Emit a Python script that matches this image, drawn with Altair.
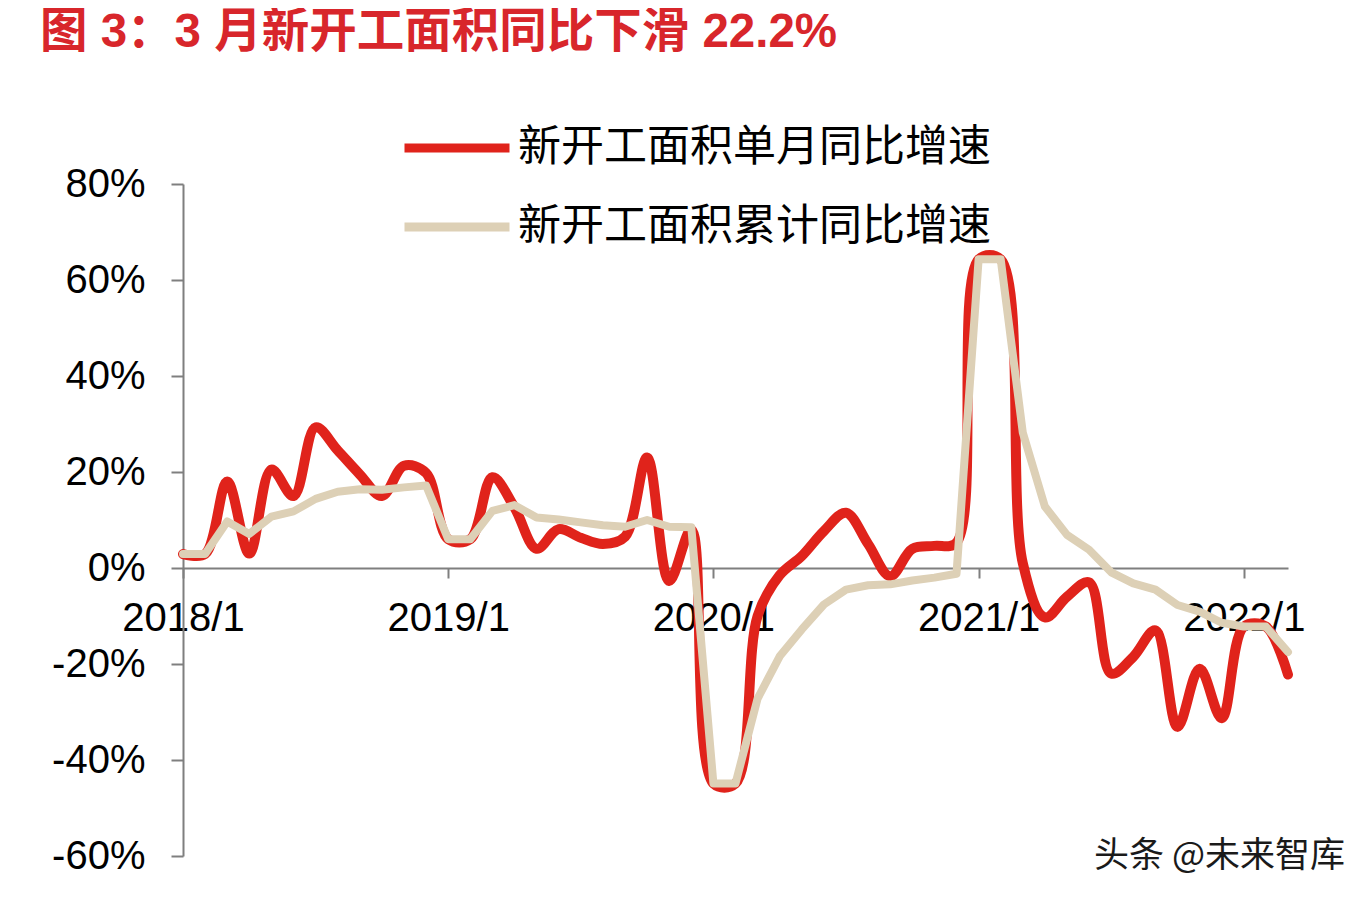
import altair as alt
import pandas as pd

# ---------------- data ----------------
month_labels = [f"{y}/{m}" for y in range(2018, 2023) for m in range(1, 13)][:51]

monthly_yoy = [
    2.9, 2.9, 18.0, 3.0, 20.5, 15.0, 29.3, 24.5, 19.5, 15.0, 21.3, 19.8,      # 2018
    6.0, 6.0, 18.9, 12.6, 4.0, 8.1, 6.3, 5.0, 6.5, 23.0, -2.7, 8.0,          # 2019
    -44.9, -44.9, -10.0, -1.5, 2.5, 7.7, 11.5, 5.0, -1.7, 4.0, 4.6, 5.3,     # 2020
    64.3, 64.3, 1.0, -10.3, -6.0, -3.0, -22.0, -18.5, -13.0, -33.1, -21.0, -31.3,  # 2021
    -12.2, -12.2, -22.2,                                                     # 2022
]

cumulative_yoy = [
    2.9, 2.9, 9.7, 7.1, 10.7, 11.8, 14.4, 15.9, 16.4, 16.3, 16.8, 17.2,      # 2018
    6.0, 6.0, 11.9, 13.1, 10.5, 10.1, 9.5, 8.9, 8.6, 10.0, 8.6, 8.5,         # 2019
    -44.9, -44.9, -27.2, -18.4, -12.8, -7.6, -4.5, -3.6, -3.4, -2.6, -2.0, -1.2,  # 2020
    64.3, 64.3, 28.2, 12.8, 6.9, 3.8, -0.9, -3.2, -4.5, -7.7, -9.1, -11.4,   # 2021
    -12.2, -12.2, -17.5,                                                     # 2022
]

series_names = ["新开工面积单月同比增速", "新开工面积累计同比增速"]
series_colors = ["#E0231B", "#DDD0B6"]
year_ticks = ["2018/1", "2019/1", "2020/1", "2021/1", "2022/1"]
y_ticks = [-60, -40, -20, 0, 20, 40, 60, 80]
title_text = ["图 3：3 月新开工面积同比下滑 22.2%"]
watermark_text = ["头条 @未来智库"]

df = pd.DataFrame({
    "month": month_labels * 2,
    "value": monthly_yoy + cumulative_yoy,
    "series": [series_names[0]] * len(monthly_yoy) + [series_names[1]] * len(cumulative_yoy),
})

W, H = 1105, 672
AXIS_COLOR = "#7f7f7f"

x_enc = alt.X(
    "month:O",
    sort=month_labels,
    scale=alt.Scale(type="point", padding=0),
    axis=alt.Axis(
        values=year_ticks, orient="bottom", offset=-288, labelAngle=0, title=None,
        tickSize=10, labelPadding=20, zindex=0,
    ),
)
y_enc = alt.Y(
    "value:Q",
    scale=alt.Scale(domain=[-60, 80], nice=False, zero=False),
    axis=alt.Axis(
        values=y_ticks, labelExpr="datum.value + '%'", title=None,
        tickSize=12, labelPadding=26, grid=False, zindex=0,
    ),
)
color_enc = alt.Color(
    "series:N",
    scale=alt.Scale(domain=series_names, range=series_colors),
    legend=alt.Legend(
        orient="none", legendX=217, legendY=-93, title=None,
        symbolType="stroke", symbolSize=11025, symbolStrokeWidth=9,
        labelFontSize=43, labelFont="Noto Sans CJK SC", labelColor="#000000",
        labelOffset=4, rowPadding=-35, padding=0, labelLimit=1000,
    ),
)

base = alt.Chart(df)

red = base.transform_filter(alt.datum.series == series_names[0]).mark_line(
    interpolate="catmull-rom", strokeWidth=10, strokeCap="round", strokeJoin="round"
).encode(x=x_enc, y=y_enc, color=color_enc)

beige = base.transform_filter(alt.datum.series == series_names[1]).mark_line(
    interpolate="linear", strokeWidth=8, strokeCap="round", strokeJoin="round"
).encode(x=x_enc, y=y_enc, color=color_enc)

wm = alt.Chart(pd.DataFrame({"t": watermark_text})).mark_text(
    align="right", baseline="middle", fontSize=35, font="Noto Sans CJK SC", color="#1a1a1a"
).encode(x=alt.value(1162), y=alt.value(672), text="t:N")

title_mark = alt.Chart(pd.DataFrame({"t": title_text})).mark_text(
    align="left", baseline="alphabetic", fontSize=47.5,
    font="Liberation Sans, Noto Sans CJK SC", fontWeight="bold", color="#D8262B",
).encode(x=alt.value(-143), y=alt.value(-137), text="t:N")

chart = alt.layer(red, beige, wm, title_mark).properties(
    width=W,
    height=H,
    padding={"left": 175, "top": 176, "right": 70, "bottom": 30},
    autosize=alt.AutoSizeParams(type="none"),
    background="#ffffff",
).configure_axis(
    labelFont="Liberation Sans", labelFontSize=40, labelColor="#000000",
    domainColor=AXIS_COLOR, domainWidth=2, tickColor=AXIS_COLOR, tickWidth=2,
).configure_view(stroke="transparent")

chart.save("out.html", embed_options={"renderer": "svg", "actions": False})
